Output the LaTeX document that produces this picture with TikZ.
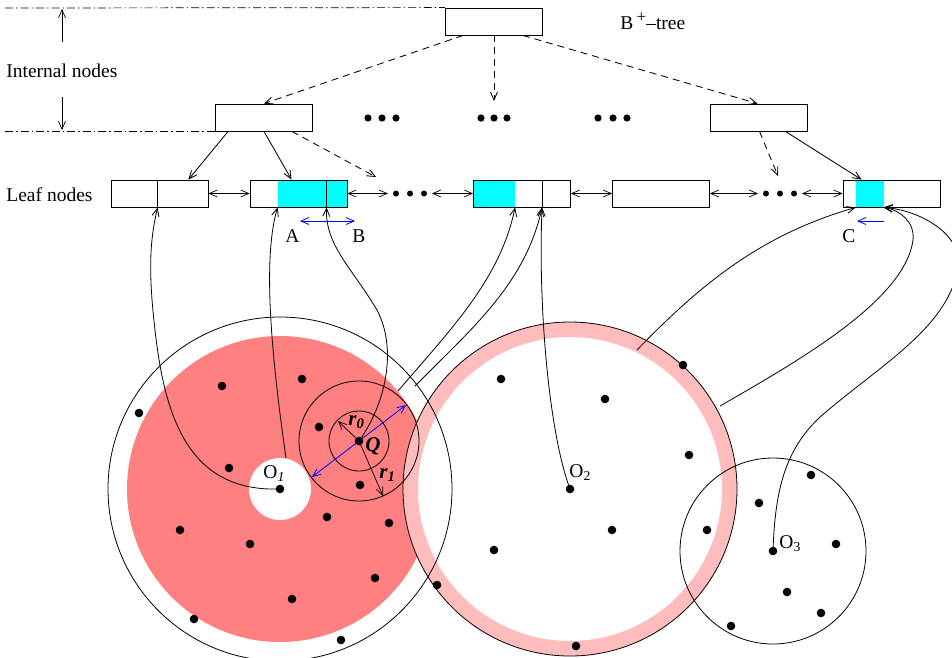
\documentclass[tikz,border=0pt]{standalone}
\usepackage{fontspec}
\setmainfont{Liberation Serif}
\usetikzlibrary{arrows.meta,calc,backgrounds}
\definecolor{diskred}{RGB}{255,128,128}
\definecolor{ringpink}{RGB}{255,188,188}
\definecolor{hitcyan}{RGB}{0,255,255}
\begin{document}
\begin{tikzpicture}[x=1pt,y=-1pt,line width=0.85pt,
  box/.style={draw,minimum width=97pt,minimum height=27pt,inner sep=0pt},
  tipped/.style={-{Straight Barb[length=8pt,width=7pt]}},
  dbl/.style={{Straight Barb[length=8pt,width=7pt]}-{Straight Barb[length=8pt,width=7pt]}},
  dashedline/.style={dash pattern=on 7pt off 5pt},
  guide/.style={dash pattern=on 8pt off 3pt on 1.5pt off 3pt},
  lbl/.style={font=\fontsize{19.5}{23}\selectfont,inner sep=0pt,anchor=base west},
  math/.style={font=\fontsize{21}{24}\selectfont\bfseries\itshape,inner sep=0pt,anchor=base west},
  link/.style={tipped,line width=0.8pt}]
\useasboundingbox (0,0) rectangle (952,657);

% ---------- B+-tree skeleton ----------
\node[box] (root) at (494,21.5) {};
\node[box] (il) at (264,117.5) {};
\node[box] (ir) at (758.5,117.5) {};

\node[box] (l1) at (159.5,193.5) {};
\node[box] (l2) at (298.5,193.5) {};
\node[box] (l3) at (522,193.5) {};
\node[box] (l4) at (661,193.5) {};
\node[box] (l5) at (891.5,193.5) {};

% highlighted leaf entries
\begin{scope}[on background layer]
  \fill[hitcyan] ([xshift=28pt]l2.south west) rectangle (l2.north east);
  \fill[hitcyan] (l3.south west) rectangle ([xshift=42pt]l3.north west);
  \fill[hitcyan] ([xshift=13pt]l5.south west) rectangle ([xshift=41pt]l5.north west);
\end{scope}

% entry separators
\draw ([xshift=47pt]l1.south west) -- ([xshift=47pt]l1.north west);
\draw ([xshift=77pt]l2.south west) -- ([xshift=77pt]l2.north west);
\draw ([xshift=69pt]l3.south west) -- ([xshift=69pt]l3.north west);

% level guides
\coordinate (g1) at (5,8);
\coordinate (g2) at (5,131);
\coordinate (g3) at (215,131);
\draw[guide,line width=0.7pt] (g1) -- (root.north west);
\draw[guide,line width=0.7pt] (g2) -- (g3);
\coordinate (va) at (62,42);
\coordinate (vb) at (62,9);
\coordinate (vc) at (62,97);
\coordinate (vd) at (62,130);
\draw[tipped,line width=0.7pt] (va) -- (vb);
\draw[tipped,line width=0.7pt] (vc) -- (vd);

\node[lbl] (tInt) at (6,77) {Internal nodes};
\node[lbl] (tLeaf) at (6,201) {Leaf nodes};
\node[lbl] (tTree) at (620,29) {B\,\raisebox{7pt}{\fontsize{17}{19}\selectfont +}--tree};

% ellipses between internal nodes
\foreach \x in {368,382,396,481,494,507,598,613,627}
  \fill (\x,118) circle[radius=3.6pt];
% ellipses in the leaf chain
\coordinate (e1) at (396,193.5);
\coordinate (e3) at (424,193.5);
\coordinate (e4) at (766,193.5);
\coordinate (e6) at (794,193.5);
\foreach \x in {396,410,424,766,780,794}
  \fill (\x,193.5) circle[radius=3pt];

% root to internal level
\draw[tipped,dashedline] ([xshift=18pt]root.south west) -- (il.north);
\draw[tipped,dashedline] (root.south) -- (494,101);
\draw[tipped,dashedline] ([xshift=-20pt]root.south east) -- ([xshift=-1pt]ir.north);
% internal level to leaves
\draw[tipped] ([xshift=13pt]il.south west) -- ([xshift=-20pt]l1.north east);
\draw[tipped] (il.south) -- ([xshift=-7pt]l2.north);
\draw[tipped,dashedline] ([xshift=-21pt]il.south east) -- (376,177);
\draw[tipped,dashedline] ([xshift=1pt]ir.south) -- (778,176);
\draw[tipped] ([xshift=-22pt]ir.south east) -- ([xshift=-30pt]l5.north);

% sibling links
\draw[dbl,line width=0.7pt] (l1.east) -- (l2.west);
\draw[dbl,line width=0.7pt] (l2.east) -- ([xshift=-8pt]e1);
\draw[dbl,line width=0.7pt] ([xshift=8pt]e3) -- (l3.west);
\draw[dbl,line width=0.7pt] (l3.east) -- (l4.west);
\draw[dbl,line width=0.7pt] (l4.east) -- ([xshift=-8pt]e4);
\draw[dbl,line width=0.7pt] ([xshift=8pt]e6) -- (l5.west);

% scan ranges
\coordinate (sa) at (300,221);
\coordinate (sb) at (355,221);
\coordinate (sc) at (884,221);
\coordinate (sd) at (857,221);
\draw[dbl,blue,line width=0.8pt] (sa) -- (sb);
\draw[tipped,blue,line width=0.8pt] (sc) -- (sd);
\node[lbl] (tA) at (285,242) {A};
\node[lbl] (tB) at (352,242) {B};
\node[lbl] (tC) at (842,242) {C};

% ---------- metric space regions ----------
\coordinate (O1) at (280,489);
\coordinate (Q) at (359,441);
\coordinate (O2) at (570,489);
\coordinate (O3) at (773,551);

\fill[diskred] (O1) circle[radius=153pt];
\fill[white] (O1) circle[radius=31pt];
\fill[white] (O2) circle[radius=167pt];
\fill[ringpink,even odd rule] (O2) circle[radius=167pt] (O2) circle[radius=152pt];

\draw[line width=0.8pt] (O1) circle[radius=172pt];
\draw[line width=0.8pt] (Q) circle[radius=30pt];
\draw[line width=0.8pt] (Q) circle[radius=60pt];
\draw[line width=0.8pt] (O2) circle[radius=167pt];
\draw[line width=0.8pt] (O3) circle[radius=93pt];

% query radii
\coordinate (qa) at (312,477);
\coordinate (qb) at (406,405);
\coordinate (r0end) at (338,421);
\coordinate (r1end) at (383,496);
\draw[dbl,blue,line width=0.8pt] (qa) -- (qb);
\draw[tipped,line width=0.7pt] (Q) -- (r0end);
\draw[tipped,line width=0.7pt] (Q) -- (r1end);

% pointers from objects to leaf entries
\coordinate (l1d) at ([xshift=47pt]l1.south west);
\coordinate (l2a) at ([xshift=28pt]l2.south west);
\coordinate (l2b) at ([xshift=77pt]l2.south west);
\coordinate (l3a) at ([xshift=42pt]l3.south west);
\coordinate (l3b) at ([xshift=69pt]l3.south west);
\coordinate (l5a) at ([xshift=13pt]l5.south west);
\coordinate (l5b) at ([xshift=41pt]l5.south west);
\coordinate (hole) at (286,458);
\coordinate (qrim) at (398,391);
\coordinate (orim) at (415,386);
\coordinate (p2a) at (637,350);
\coordinate (p2b) at (720,406);

\draw[link] (O1) .. controls (190,492) and (165,420) .. (155,330)
               .. controls (148,270) and (150,240) .. (l1d);
\draw[link] (hole) .. controls (272,360) and (262,260) .. (l2a);
\draw[link] (Q) .. controls (385,405) and (398,350) .. (377,310)
               .. controls (352,268) and (325,245) .. (l2b);
\draw[link] (qrim) .. controls (450,330) and (500,280) .. (l3a);
\draw[link] (orim) .. controls (470,330) and (525,285) .. (l3b);
\draw[link] (O2) .. controls (548,430) and (538,300) .. (l3b);
\draw[link] (p2a) .. controls (700,285) and (760,235) .. (l5a);
\draw[link] (p2b) .. controls (800,360) and (905,300) .. (913,240)
               .. controls (915,222) and (900,210) .. (l5b);
\draw[link] (O3) .. controls (775,490) and (785,450) .. (820,417)
               .. controls (880,365) and (945,330) .. (958,270)
               .. controls (965,235) and (920,210) .. (l5b);

% data objects
\foreach \p in {(139,413),(222,386),(302,379),(319,427),(229,468),(360,485),
                (327,517),(389,523),(180,530),(250,544),(375,578),(292,599),
                (194,619),(341,640),(437,585),
                (501,379),(605,399),(689,455),(612,530),(494,550),(683,365),(576,646),
                (811,475),(759,503),(707,530),(836,544),(787,592),(821,613),(731,626)}
  \fill \p circle[radius=4.3pt];
\fill (O1) circle[radius=4.3pt];
\fill (Q) circle[radius=4.3pt];
\fill (O2) circle[radius=4.3pt];
\fill (O3) circle[radius=4.3pt];

% labels
\node[lbl] (tO1) at (263,478) {O\textsubscript{\itshape 1}};
\node[lbl] (tO2) at (569,477) {O\textsubscript{2}};
\node[lbl] (tO3) at (779,548) {O\textsubscript{3}};
\node[math] (tQ) at (365,451) {Q};
\node[math] (tr0) at (348,425) {r\textsubscript{0}};
\node[math] (tr1) at (379,478) {r\textsubscript{1}};
\end{tikzpicture}
\end{document}
